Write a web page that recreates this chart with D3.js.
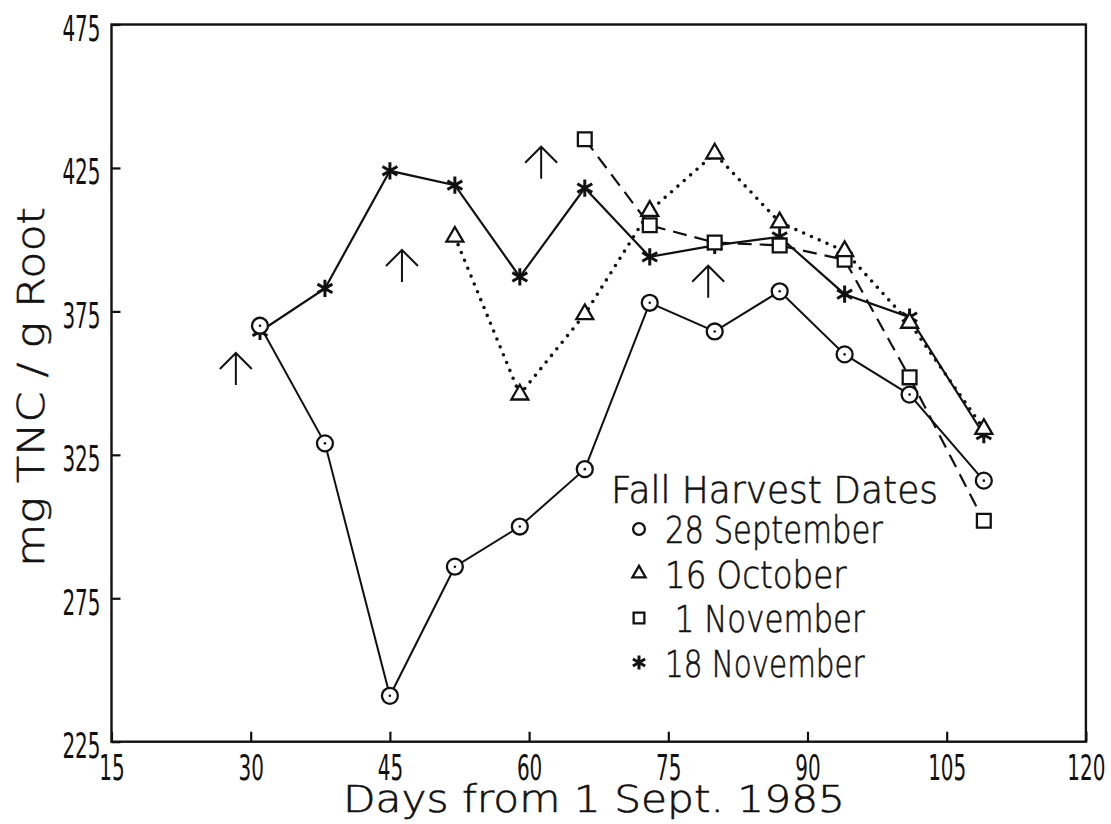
<!DOCTYPE html>
<html lang="en">
<head>
<meta charset="UTF-8">
<title>TNC_Root_Harvest</title>
<style>
    body { margin: 0; background: #fff; }
    #chart text {
        font-family: "DejaVu Sans Condensed", "DejaVu Sans", sans-serif;
        fill: #111;
    }
    #chart text.title {
        font-family: "DejaVu Sans", sans-serif;
        font-weight: 200;
        stroke: #111;
        stroke-width: 0.6px;
    }
</style>
</head>
<body>
<div id="chart"></div>
<script src="https://d3js.org/d3.v7.min.js"></script>
<script>
// Data (days from 1 Sept. 1985, mg TNC / g root)
const seriesNames = ["28 September", "16 October", " 1 November", "18 November"];

const sepDays   = [31, 38, 45, 52, 59, 66, 73, 80, 87, 94, 101, 109];
const sepValues = [370, 329, 241, 286, 300, 320, 378, 368, 382, 360, 346, 316];

const octDays   = [52, 59, 66, 73, 80, 87, 94, 101, 109];
const octValues = [401, 346, 374, 410, 430, 406, 396, 371, 334];

const nov1Days   = [66, 73, 80, 87, 94, 101, 109];
const nov1Values = [435, 405, 399, 398, 393, 352, 302];

const nov18Days   = [31, 38, 45, 52, 59, 66, 73, 80, 87, 94, 101, 109];
const nov18Values = [368, 383, 424, 419, 387, 418, 394, 398, 401, 381, 373, 332];

// harvest-date arrows (tip position)
const arrowDays   = [28.4, 46.3, 61.3, 79.3];
const arrowValues = [360.5, 396.4, 432.4, 390.9];

const xTicks = [15, 30, 45, 60, 75, 90, 105, 120];
const yTicks = [225, 275, 325, 375, 425, 475];

// chart settings
const W = 1111, H = 824;
const plot = { left: 111.5, right: 1085.9, top: 24.5, bottom: 741.7 };
const ink = "#111";

const x = d3.scaleLinear().domain([15, 120]).range([plot.left, plot.right]);
const y = d3.scaleLinear().domain([225, 475]).range([plot.bottom, plot.top]);

const series = [
    { name: seriesNames[0], days: sepDays, values: sepValues, symbol: d3.symbolCircle, size: 200, legendSize: 110, dash: null, width: 2, cap: "butt" },
    { name: seriesNames[1], days: octDays, values: octValues, symbol: d3.symbolTriangle, size: 125, legendSize: 75, dash: "0 8.5", width: 3.6, cap: "round" },
    { name: seriesNames[2], days: nov1Days, values: nov1Values, symbol: d3.symbolSquare, size: 190, legendSize: 115, dash: "14 8", width: 2.2, cap: "butt" },
    { name: seriesNames[3], days: nov18Days, values: nov18Values, symbol: d3.symbolAsterisk, size: 210, legendSize: 140, dash: null, width: 2.2, cap: "butt" }
];
series.forEach(s => { s.points = s.days.map((d, i) => ({ day: d, value: s.values[i] })); });

const svg = d3.select("#chart").append("svg")
    .attr("width", W)
    .attr("height", H);

// frame
svg.append("rect")
    .attr("x", plot.left).attr("y", plot.top)
    .attr("width", plot.right - plot.left)
    .attr("height", plot.bottom - plot.top)
    .attr("fill", "none")
    .attr("stroke", ink)
    .attr("stroke-width", 2.4);

// axes (ticks point inward)
const yAxis = svg.append("g")
    .attr("transform", `translate(${plot.left},0)`)
    .call(d3.axisLeft(y).tickValues(yTicks).tickSize(-9).tickSizeOuter(0).tickPadding(11));

const xAxis = svg.append("g")
    .attr("transform", `translate(0,${plot.bottom})`)
    .call(d3.axisBottom(x).tickValues(xTicks).tickSize(-10).tickSizeOuter(0).tickPadding(13));

[yAxis, xAxis].forEach(ax => {
    ax.select(".domain").remove();
    ax.selectAll(".tick line").attr("stroke", ink).attr("stroke-width", 2.2);
    ax.selectAll(".tick text")
        .style("font-size", "36px")
        .attr("fill", ink)
        .attr("textLength", d => String(d).length * 12.7)
        .attr("lengthAdjust", "spacingAndGlyphs");
});
yAxis.selectAll(".tick text").attr("dy", "0.44em");

// lines
const line = d3.line().x(d => x(d.day)).y(d => y(d.value));

svg.append("g").selectAll("path")
    .data(series)
    .join("path")
    .attr("d", s => line(s.points))
    .attr("fill", "none")
    .attr("stroke", ink)
    .attr("stroke-width", s => s.width)
    .attr("stroke-linecap", s => s.cap)
    .attr("stroke-dasharray", s => s.dash);

// markers (asterisks first so open circles sit on top)
const drawOrder = [series[3], series[2], series[1], series[0]];
drawOrder.forEach(s => {
    const g = svg.append("g");
    g.selectAll("path")
        .data(s.points)
        .join("path")
        .attr("transform", d => `translate(${x(d.day)},${y(d.value)})`)
        .attr("d", d3.symbol().type(s.symbol).size(s.size))
        .attr("fill", s.symbol === d3.symbolAsterisk ? "none" : "#fff")
        .attr("stroke", ink)
        .attr("stroke-width", s.symbol === d3.symbolAsterisk ? 3 : 2.3);
    if (s.symbol === d3.symbolCircle) {
        g.selectAll("circle")
            .data(s.points)
            .join("circle")
            .attr("cx", d => x(d.day))
            .attr("cy", d => y(d.value))
            .attr("r", 1.3)
            .attr("fill", ink);
    }
});

// harvest arrows
const arrows = arrowDays.map((d, i) => ({ day: d, value: arrowValues[i] }));
svg.append("g").selectAll("path")
    .data(arrows)
    .join("path")
    .attr("d", d => {
        const px = x(d.day), py = y(d.value);
        return `M${px},${py + 32}V${py}M${px - 16},${py + 16}L${px},${py}L${px + 16},${py + 16}`;
    })
    .attr("fill", "none")
    .attr("stroke", ink)
    .attr("stroke-width", 2);

// axis titles
svg.append("text")
    .attr("class", "title")
    .attr("x", 594).attr("y", 812)
    .attr("text-anchor", "middle")
    .style("font-size", "37px")
    .attr("textLength", 502)
    .attr("lengthAdjust", "spacingAndGlyphs")
    .text("Days from 1 Sept. 1985");

svg.append("text")
    .attr("class", "title")
    .attr("transform", "translate(44,387) rotate(-90)")
    .attr("text-anchor", "middle")
    .style("font-size", "37px")
    .attr("textLength", 360)
    .attr("lengthAdjust", "spacingAndGlyphs")
    .text("mg TNC / g Root");

// legend
const legend = svg.append("g").attr("transform", "translate(611,503)");
legend.append("text")
    .attr("class", "title")
    .style("font-size", "37px")
    .attr("textLength", 327)
    .attr("lengthAdjust", "spacingAndGlyphs")
    .text("Fall Harvest Dates");

const items = legend.selectAll(".item")
    .data(series)
    .join("g")
    .attr("class", "item")
    .attr("transform", (d, i) => `translate(0,${40 + i * 44.5})`);

items.append("path")
    .attr("transform", "translate(28,-14)")
    .attr("d", s => d3.symbol().type(s.symbol).size(s.legendSize)())
    .attr("fill", "none")
    .attr("stroke", ink)
    .attr("stroke-width", s => s.symbol === d3.symbolAsterisk ? 3 : 2.3);

items.append("text")
    .attr("class", "title")
    .attr("x", 54)
    .attr("xml:space", "preserve")
    .style("white-space", "pre")
    .style("font-size", "37px")
    .attr("textLength", s => s.name.length * 18.15)
    .attr("lengthAdjust", "spacingAndGlyphs")
    .text(s => s.name);
</script>
</body>
</html>
